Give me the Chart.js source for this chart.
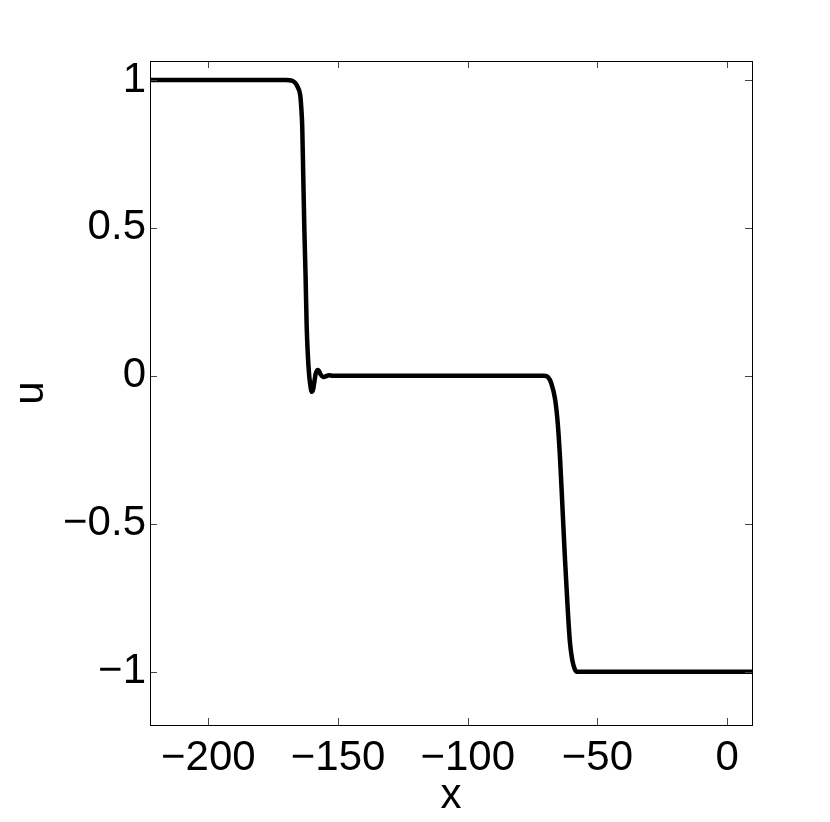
<!DOCTYPE html>
<html>
<head>
<meta charset="utf-8">
<script src="https://cdn.jsdelivr.net/npm/chart.js@4.4.0/dist/chart.umd.min.js"></script>
<style>
  html, body { margin: 0; padding: 0; background: #fff; }
  #wrap { width: 830px; height: 822px; }
</style>
</head>
<body>
<div id="wrap"><canvas id="c" width="830" height="822"></canvas></div>
<script>
// values
const xs = [-222.5, -180, -170, -167.8, -166.5, -165.5, -164.6, -164.2, -163.8, -163.4, -163.0, -162.5, -162.1, -161.7,
  -161.3, -160.8, -160.1, -159.6, -159.1, -158.6, -157.7, -156.8, -155.8, -154.8, -153.5, -152, -120, -90,
  -70.5, -69, -67.8, -66.3, -65.3, -64.4, -63.5, -62.5, -61.5, -60.6, -59.7, -58.8, -58.0, -40, 9.6];
const us = [1, 1, 1, 0.998, 0.99, 0.975, 0.95, 0.91, 0.84, 0.67, 0.50, 0.33, 0.17, 0.08,
  0.02, -0.025, -0.054, -0.045, -0.018, 0.008, 0.02, 0.006, -0.004, -0.002, 0.002, 0, 0, 0,
  0, -0.005, -0.025, -0.08, -0.16, -0.28, -0.44, -0.62, -0.78, -0.9, -0.96, -0.99, -1, -1, -1];
const xTicks = [-200, -150, -100, -50, 0];
const yTicks = [-1, -0.5, 0, 0.5, 1];

const fontFamily = '"Liberation Sans", Arial, Helvetica, sans-serif';
const fmt = v => String(v).replace('-', '\u2212');

const frame = {
  id: 'frame',
  afterDraw(chart) {
    const { ctx, chartArea: a, scales } = chart;
    const len = 7;
    ctx.save();
    ctx.strokeStyle = '#444';
    ctx.lineWidth = 1;
    ctx.beginPath();
    xTicks.forEach(v => {
      const px = Math.round(scales.x.getPixelForValue(v)) + 0.5;
      ctx.moveTo(px, a.bottom); ctx.lineTo(px, a.bottom - len);
      ctx.moveTo(px, a.top); ctx.lineTo(px, a.top + len);
    });
    yTicks.forEach(v => {
      const py = Math.round(scales.y.getPixelForValue(v)) + 0.5;
      ctx.moveTo(a.left, py); ctx.lineTo(a.left + len, py);
      ctx.moveTo(a.right, py); ctx.lineTo(a.right - len, py);
    });
    ctx.stroke();
    ctx.strokeStyle = '#000';
    ctx.strokeRect(Math.round(a.left) + 0.5, Math.round(a.top) + 0.5,
      Math.round(a.right - a.left), Math.round(a.bottom - a.top));
    ctx.restore();
  }
};

new Chart(document.getElementById('c'), {
  type: 'scatter',
  data: {
    datasets: [{
      data: xs.map((x, i) => ({ x: x, y: us[i] })),
      showLine: true,
      borderColor: '#000',
      borderWidth: 4.5,
      pointRadius: 0,
      cubicInterpolationMode: 'monotone',
      borderCapStyle: 'round',
      borderJoinStyle: 'round'
    }]
  },
  options: {
    responsive: false,
    animation: false,
    layout: { padding: { left: 0, right: 78, top: 61, bottom: 0 } },
    plugins: { legend: { display: false }, tooltip: { enabled: false } },
    scales: {
      x: {
        type: 'linear',
        min: -222.5,
        max: 9.6,
        grid: { display: false },
        border: { display: false },
        afterFit: s => { s.height = 97; },
        afterBuildTicks: s => { s.ticks = xTicks.map(v => ({ value: v })); },
        ticks: {
          color: '#000',
          font: { family: fontFamily, size: 42 },
          padding: 0,
          maxRotation: 0,
          callback: v => fmt(v)
        },
        title: {
          display: true,
          text: 'x',
          color: '#000',
          font: { family: fontFamily, size: 42 },
          padding: { top: 0, bottom: 0 }
        }
      },
      y: {
        type: 'linear',
        min: -1.18,
        max: 1.064,
        grid: { display: false },
        border: { display: false },
        afterFit: s => { s.width = 150; },
        afterBuildTicks: s => { s.ticks = yTicks.map(v => ({ value: v })); },
        ticks: {
          color: '#000',
          font: { family: fontFamily, size: 42 },
          padding: -4,
          callback: v => fmt(v)
        },
        title: {
          display: true,
          text: 'u',
          color: '#000',
          font: { family: fontFamily, size: 42 },
          padding: { top: 6, bottom: 0 }
        }
      }
    }
  },
  plugins: [frame]
});
</script>
</body>
</html>
